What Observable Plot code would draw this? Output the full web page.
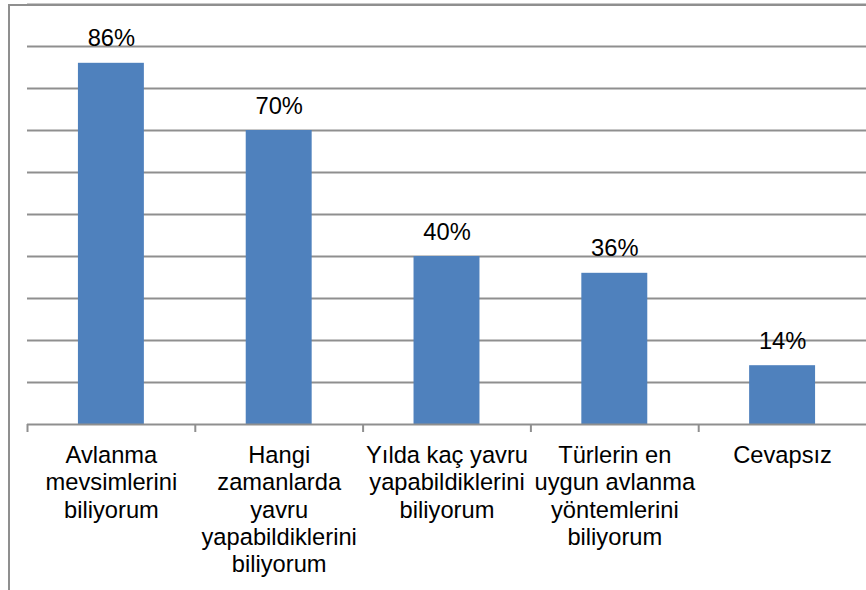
<!DOCTYPE html>
<html><head><meta charset="utf-8">
<script src="https://cdn.jsdelivr.net/npm/d3@7"></script>
<script src="https://cdn.jsdelivr.net/npm/@observablehq/plot@0.6"></script>
<style>
body{margin:0;background:#fff;}
#wrap{position:relative;width:866px;height:590px;overflow:hidden;background:#fff}
#border{position:absolute;left:8px;top:4px;width:900px;height:700px;border-left:2px solid #8f8f8f;border-top:2px solid #8f8f8f;box-sizing:border-box}
#wrap svg{position:absolute;left:0;top:0;overflow:visible}
</style>
</head><body>
<div id="wrap"><div id="border"></div></div>
<script>
const categories = ["Avlanma mevsimlerini biliyorum", "Hangi zamanlarda yavru yapabildiklerini biliyorum", "Yılda kaç yavru yapabildiklerini biliyorum", "Türlerin en uygun avlanma yöntemlerini biliyorum", "Cevapsız"];
const labels = ["Avlanma\nmevsimlerini\nbiliyorum", "Hangi\nzamanlarda\nyavru\nyapabildiklerini\nbiliyorum", "Yılda kaç yavru\nyapabildiklerini\nbiliyorum", "Türlerin en\nuygun avlanma\nyöntemlerini\nbiliyorum", "Cevapsız"];
const values = [86, 70, 40, 36, 14];
const gridTicks = [10, 20, 30, 40, 50, 60, 70, 80, 90, 100];

const data = categories.map((c, i) => ({cat: c, label: labels[i], value: values[i]}));

const W = 866, H = 590, mL = 27, mR = 0, mT = 4, mB = 166;
const step = (W - mL - mR) / categories.length;
const font = "'Liberation Sans', Arial, sans-serif";
const fs = 23.7;

const chart = Plot.plot({
  width: W, height: H,
  marginLeft: mL, marginRight: mR, marginTop: mT, marginBottom: mB,
  style: {fontFamily: font, fontSize: fs + "px", color: "#000", background: "transparent"},
  x: {domain: categories, paddingInner: 0.607, paddingOuter: 0.3035, round: false, axis: null},
  y: {domain: [0, 100], axis: null},
  marks: [
    Plot.ruleY(gridTicks, {stroke: "#8f8f8f", strokeWidth: 2, strokeOpacity: 1}),
    Plot.barY(data, {x: "cat", y: "value", fill: "#4F81BD"}),
    Plot.ruleY([0], {stroke: "#8f8f8f", strokeWidth: 2}),
    Plot.ruleX(categories, {x: d => d, dx: -step / 2, y1: 0, y2: 0, insetBottom: -8, stroke: "#8f8f8f", strokeWidth: 2}),
    Plot.text(data, {x: "cat", y: "value", text: d => d.value + "%", dy: -17, lineAnchor: "bottom", fontSize: fs, fill: "#000"}),
    Plot.text(data, {x: "cat", y: () => 0, text: "label", dy: 19.2, lineAnchor: "top", lineHeight: 1.15, fontSize: fs, fill: "#000"})
  ]
});
document.getElementById("wrap").appendChild(chart);
</script>
</body></html>
